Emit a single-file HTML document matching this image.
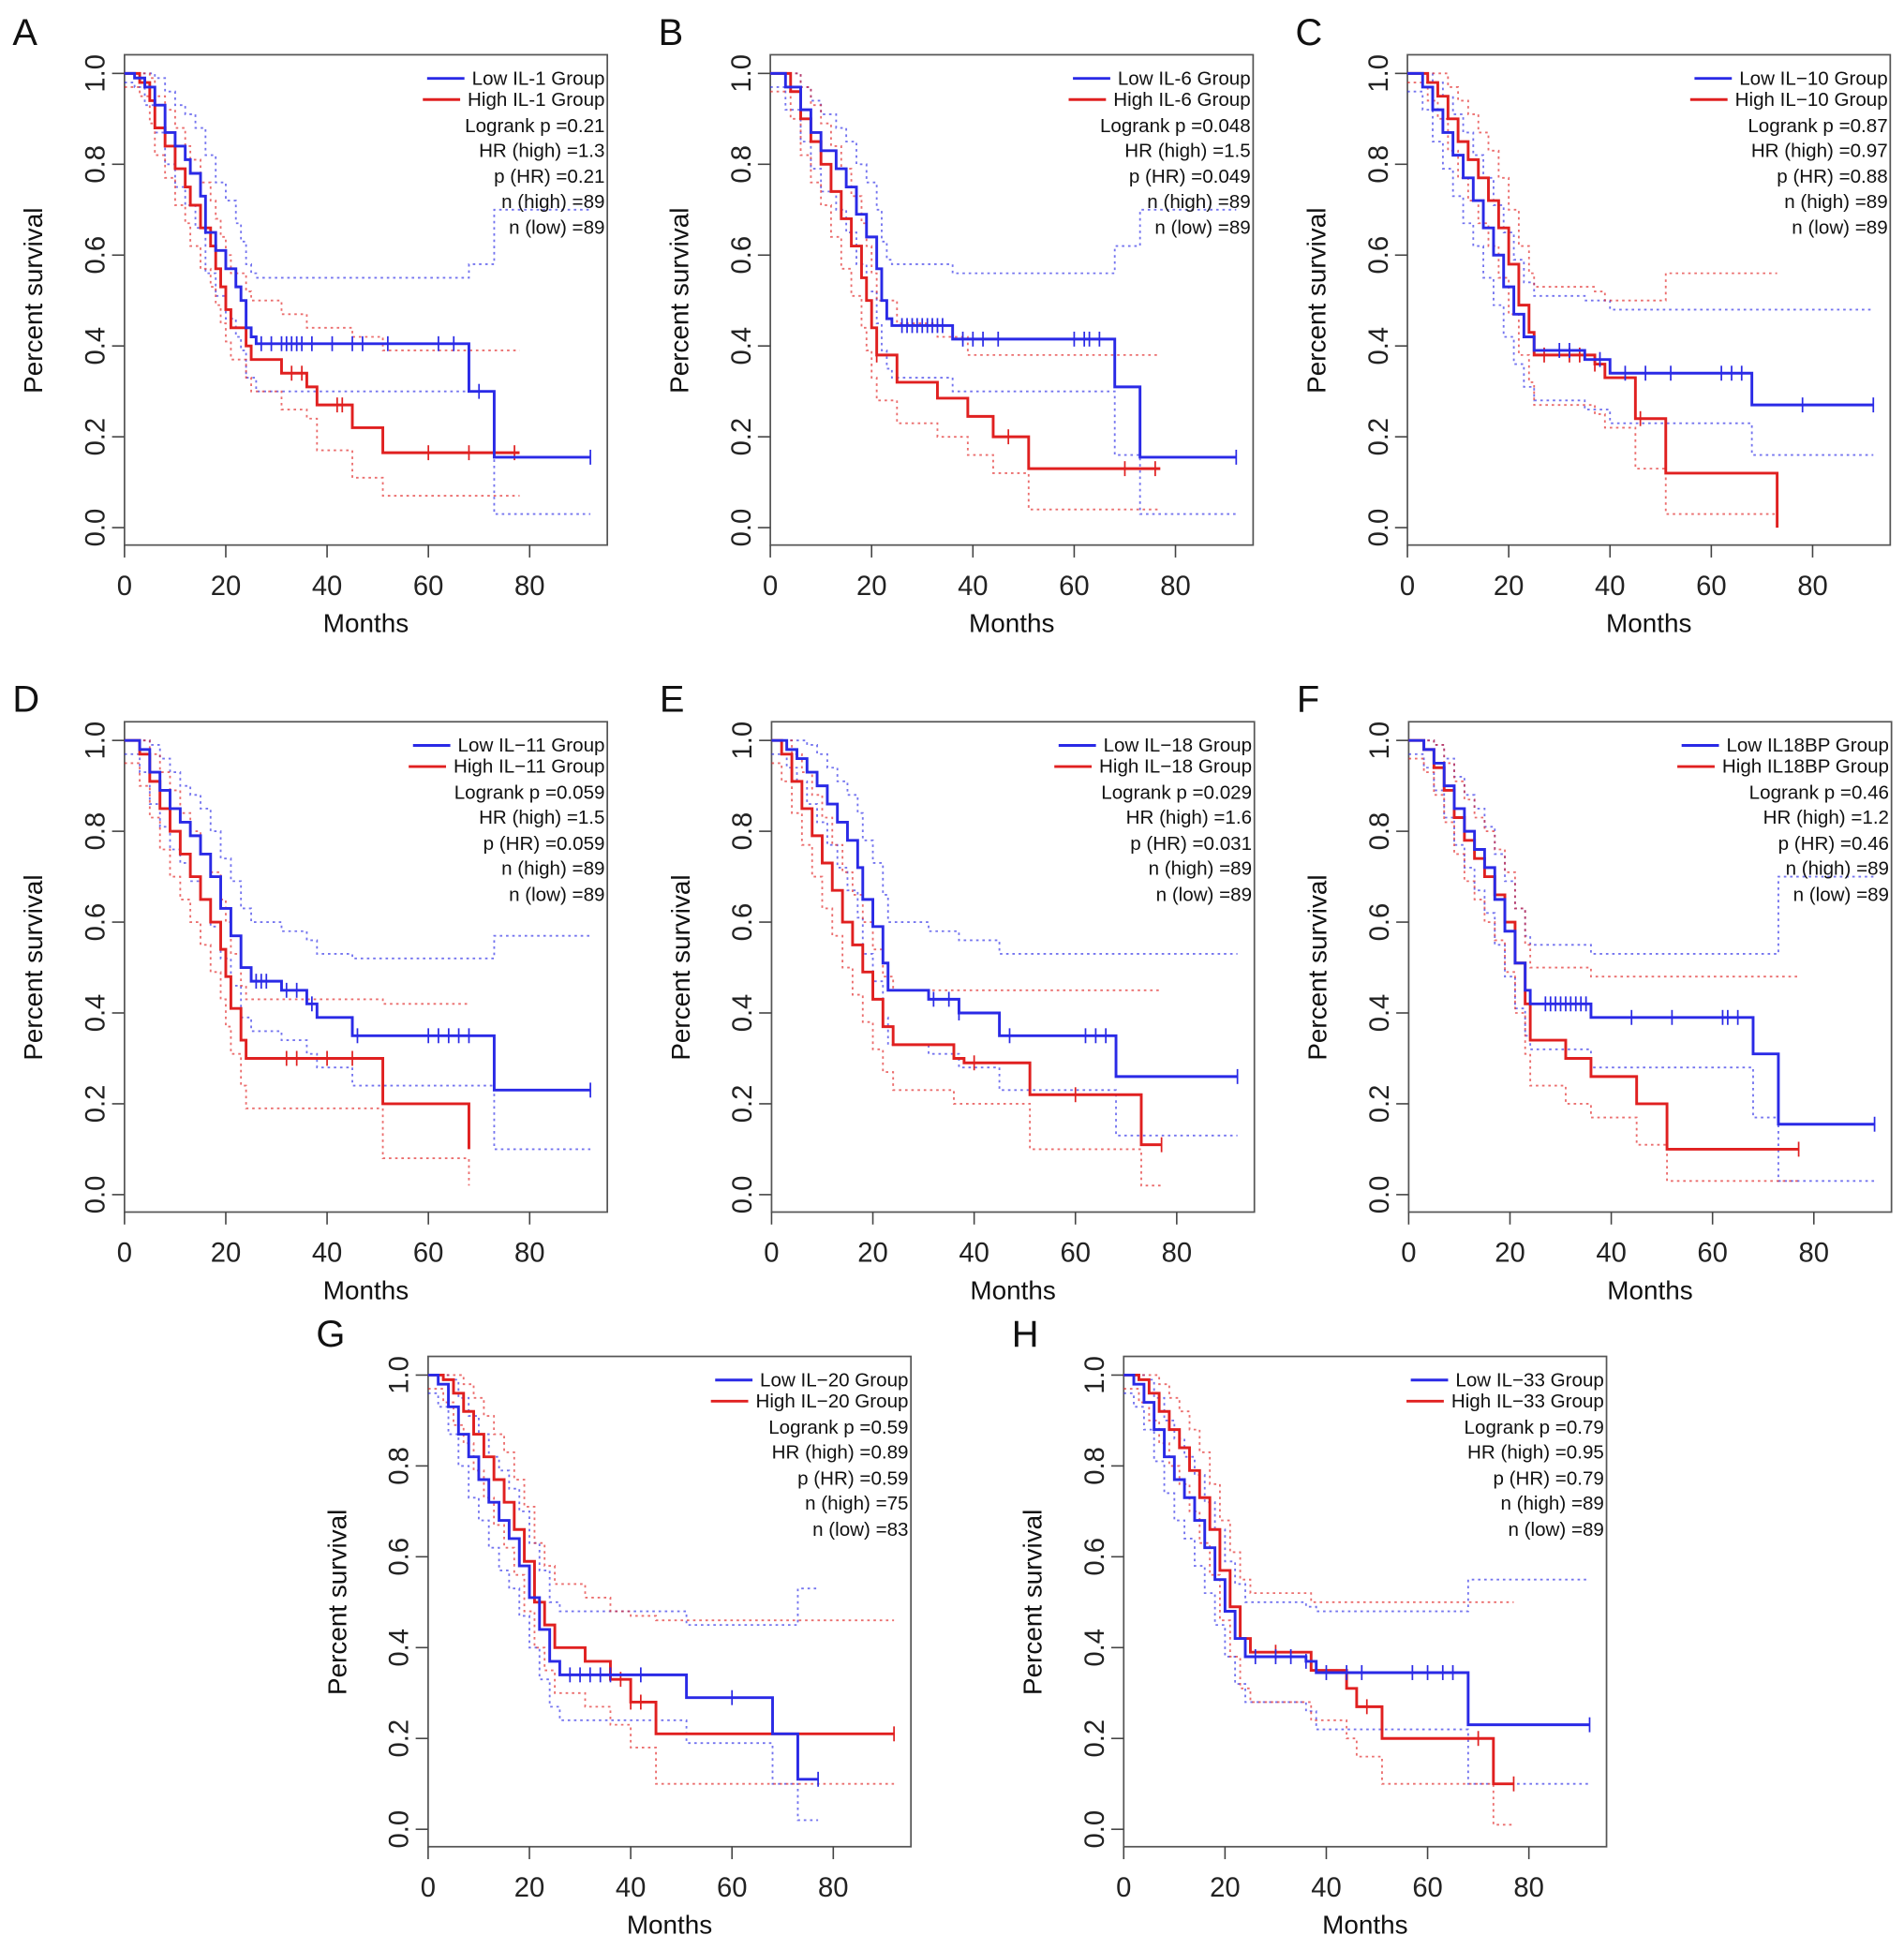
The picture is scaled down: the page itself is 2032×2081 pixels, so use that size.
<!DOCTYPE html>
<html><head><meta charset="utf-8">
<style>
html,body{margin:0;padding:0;background:#fff;}
svg{display:block;font-family:"Liberation Sans",Arial,sans-serif;}
</style></head>
<body>
<svg id="fig" width="2032" height="2081" viewBox="0 0 1530 1567" xmlns="http://www.w3.org/2000/svg"></svg>
<script>
// ---- Data (months, survival) ----
const A_low=[[0,1],[2,.99],[4,.97],[6,.93],[8,.87],[10,.84],[12,.81],[13,.78],[15,.73],[16,.65],[18,.61],[20,.57],[22,.53],[23,.5],[24,.44],[25,.42],[26,.405],[68,.30],[73,.155]];
const A_high=[[0,1],[3,.98],[5,.94],[6,.88],[8,.84],[10,.79],[12,.75],[13,.71],[15,.66],[17,.62],[18,.57],[19,.53],[20,.48],[21,.44],[24,.40],[25,.37],[31,.34],[36,.31],[38,.27],[45,.22],[51,.165]];
const A_lowCens=[27,29,31,32,33,34,35,37,41,45,47,52,62,65,70,92];
const A_highCens=[33,35,42,43,60,68,77];
const A_lowUp=[[0,1],[4,1],[6,.99],[8,.96],[10,.93],[12,.91],[14,.88],[16,.82],[18,.76],[20,.72],[22,.67],[23,.63],[24,.58],[25,.56],[26,.55],[68,.58],[73,.70]];
const A_lowLo=[[0,.98],[2,.97],[4,.93],[6,.87],[8,.80],[10,.75],[12,.71],[14,.66],[16,.56],[18,.51],[20,.46],[22,.42],[23,.39],[24,.33],[26,.30],[73,.03]];
const A_highUp=[[0,1],[3,1],[5,.99],[6,.95],[8,.92],[10,.88],[12,.84],[13,.81],[15,.76],[17,.72],[18,.68],[19,.64],[20,.60],[21,.56],[24,.52],[25,.50],[31,.47],[36,.44],[45,.42],[51,.39]];
const A_highLo=[[0,.97],[3,.95],[5,.89],[6,.82],[8,.77],[10,.71],[12,.67],[13,.62],[15,.57],[17,.53],[18,.49],[19,.45],[20,.41],[21,.37],[24,.33],[25,.30],[31,.26],[36,.24],[38,.17],[45,.11],[51,.07]];

const B_low=[[0,1],[3,.97],[6,.92],[8,.87],[10,.83],[13,.79],[15,.75],[17,.69],[19,.64],[21,.57],[22,.50],[23,.46],[24,.445],[36,.415],[68,.31],[73,.155]];
const B_high=[[0,1],[4,.96],[6,.90],[8,.85],[10,.80],[12,.74],[14,.68],[16,.62],[18,.55],[19,.50],[20,.44],[21,.38],[25,.32],[33,.285],[39,.245],[44,.20],[51,.13]];
const B_lowCens=[26,27,28,29,30,31,32,33,34,38,40,42,45,60,62,63,65,92];
const B_highCens=[21,47,70,76];
const B_lowUp=[[0,1],[4,1],[6,.97],[8,.94],[10,.91],[13,.88],[15,.85],[17,.80],[19,.76],[21,.70],[22,.63],[23,.59],[24,.58],[36,.56],[68,.62],[73,.70]];
const B_lowLo=[[0,.97],[3,.92],[6,.85],[8,.79],[10,.74],[13,.70],[15,.65],[17,.58],[19,.52],[21,.45],[22,.39],[23,.35],[24,.33],[36,.30],[68,.16],[73,.03]];
const B_highUp=[[0,1],[4,1],[6,.97],[8,.93],[10,.89],[12,.84],[14,.79],[16,.73],[18,.67],[19,.62],[20,.56],[21,.50],[25,.45],[33,.42],[39,.38]];
const B_highLo=[[0,.96],[4,.90],[6,.82],[8,.76],[10,.71],[12,.64],[14,.57],[16,.51],[18,.44],[19,.39],[20,.33],[21,.28],[25,.23],[33,.20],[39,.16],[44,.12],[51,.04]];

const C_low=[[0,1],[3,.97],[5,.92],[7,.87],[9,.82],[11,.77],[13,.72],[15,.66],[17,.60],[19,.53],[21,.47],[23,.42],[25,.39],[35,.37],[40,.34],[68,.27]];
const C_high=[[0,1],[4,.98],[6,.95],[8,.90],[10,.85],[12,.81],[14,.77],[16,.72],[18,.66],[20,.58],[22,.49],[24,.43],[25,.38],[37,.36],[39,.33],[45,.24],[51,.12],[73,0]];
const C_lowCens=[30,32,38,43,47,52,62,64,66,78,92];
const C_highCens=[27,32,34,37,46];
const C_lowUp=[[0,1],[3,1],[5,.98],[7,.95],[9,.91],[11,.87],[13,.82],[15,.77],[17,.71],[19,.65],[21,.59],[23,.54],[25,.51],[35,.50],[40,.48]];
const C_lowLo=[[0,.96],[3,.92],[5,.85],[7,.79],[9,.73],[11,.67],[13,.62],[15,.55],[17,.49],[19,.42],[21,.36],[23,.31],[25,.28],[35,.26],[40,.23],[68,.16]];
const C_highUp=[[0,1],[6,1],[8,.97],[10,.94],[12,.91],[14,.87],[16,.83],[18,.77],[20,.70],[22,.62],[24,.56],[25,.53],[37,.52],[39,.50],[45,.50],[51,.56]];
const C_highLo=[[0,.98],[4,.94],[6,.90],[8,.83],[10,.77],[12,.72],[14,.67],[16,.62],[18,.55],[20,.47],[22,.38],[24,.32],[25,.27],[37,.25],[39,.22],[45,.13],[51,.03]];

const D_low=[[0,1],[3,.98],[5,.93],[7,.89],[9,.85],[11,.82],[13,.79],[15,.75],[17,.70],[19,.63],[21,.57],[23,.50],[25,.47],[31,.45],[36,.42],[38,.39],[45,.35],[73,.23]];
const D_high=[[0,1],[3,.97],[5,.91],[7,.85],[9,.80],[11,.75],[13,.70],[15,.65],[17,.60],[19,.54],[20,.48],[21,.41],[23,.34],[24,.30],[51,.20],[68,.10]];
const D_lowCens=[26,27,28,32,34,37,46,60,62,64,66,68,92];
const D_highCens=[32,34,40,45];
const D_lowUp=[[0,1],[5,.99],[7,.96],[9,.93],[11,.90],[13,.88],[15,.85],[17,.80],[19,.74],[21,.69],[23,.63],[25,.60],[31,.58],[36,.56],[38,.53],[45,.52],[73,.57]];
const D_lowLo=[[0,.97],[3,.93],[5,.86],[7,.81],[9,.76],[11,.73],[13,.69],[15,.65],[17,.59],[19,.52],[21,.46],[23,.39],[25,.36],[31,.34],[36,.31],[38,.28],[45,.24],[73,.10]];
const D_highUp=[[0,1],[5,.97],[7,.93],[9,.89],[11,.84],[13,.80],[15,.75],[17,.71],[19,.65],[20,.60],[21,.53],[23,.46],[24,.43],[51,.42]];
const D_highLo=[[0,.95],[3,.90],[5,.83],[7,.76],[9,.70],[11,.65],[13,.60],[15,.55],[17,.49],[19,.43],[20,.37],[21,.31],[23,.24],[24,.19],[51,.08],[68,.02]];

const E_low=[[0,1],[3,.98],[5,.96],[7,.93],[9,.90],[11,.86],[13,.82],[15,.78],[17,.72],[18,.65],[20,.59],[22,.51],[23,.45],[31,.43],[37,.40],[45,.35],[68,.26]];
const E_high=[[0,1],[2,.97],[4,.91],[6,.85],[8,.79],[10,.73],[12,.67],[14,.60],[16,.55],[18,.49],[20,.43],[22,.37],[24,.33],[36,.30],[38,.29],[51,.22],[73,.11]];
const E_lowCens=[32,35,37,47,62,64,66,92];
const E_highCens=[40,60,77];
const E_lowUp=[[0,1],[7,.99],[9,.97],[11,.94],[13,.91],[15,.88],[17,.84],[18,.78],[20,.73],[22,.66],[23,.60],[31,.58],[37,.56],[45,.53]];
const E_lowLo=[[0,.97],[3,.94],[5,.91],[7,.86],[9,.82],[11,.77],[13,.72],[15,.67],[17,.61],[18,.53],[20,.47],[22,.39],[23,.33],[31,.31],[37,.28],[45,.23],[68,.13]];
const E_highUp=[[0,1],[4,.97],[6,.93],[8,.88],[10,.83],[12,.77],[14,.71],[16,.66],[18,.60],[20,.54],[22,.48],[24,.45]];
const E_highLo=[[0,.95],[2,.91],[4,.84],[6,.77],[8,.70],[10,.63],[12,.57],[14,.50],[16,.44],[18,.38],[20,.32],[22,.27],[24,.23],[36,.20],[51,.10],[73,.02]];

const F_low=[[0,1],[3,.98],[5,.95],[7,.90],[9,.85],[11,.80],[13,.76],[15,.72],[17,.65],[19,.58],[21,.51],[23,.45],[24,.42],[36,.39],[68,.31],[73,.155]];
const F_high=[[0,1],[3,.98],[5,.94],[7,.89],[9,.83],[11,.78],[13,.74],[15,.70],[17,.66],[19,.60],[21,.51],[23,.42],[24,.34],[31,.30],[36,.26],[45,.20],[51,.10]];
const F_lowCens=[27,28,29,30,31,32,33,34,35,44,52,62,63,65,92];
const F_highCens=[77];
const F_lowUp=[[0,1],[5,.99],[7,.96],[9,.92],[11,.88],[13,.85],[15,.81],[17,.75],[19,.69],[21,.63],[23,.57],[24,.55],[36,.53],[73,.70]];
const F_lowLo=[[0,.97],[3,.94],[5,.89],[7,.83],[9,.77],[11,.72],[13,.67],[15,.62],[17,.55],[19,.48],[21,.41],[23,.35],[24,.32],[36,.28],[68,.17],[73,.03]];
const F_highUp=[[0,1],[5,.99],[7,.95],[9,.91],[11,.87],[13,.83],[15,.80],[17,.76],[19,.71],[21,.63],[23,.55],[24,.50],[36,.48]];
const F_highLo=[[0,.96],[3,.93],[5,.88],[7,.82],[9,.75],[11,.69],[13,.65],[15,.60],[17,.56],[19,.49],[21,.40],[23,.31],[24,.24],[31,.20],[36,.17],[45,.11],[51,.03]];

const G_low=[[0,1],[2,.98],[4,.93],[6,.87],[8,.82],[10,.77],[12,.72],[14,.68],[16,.64],[18,.58],[20,.51],[22,.44],[24,.37],[26,.34],[51,.29],[68,.21],[73,.11]];
const G_high=[[0,1],[3,.99],[5,.96],[7,.92],[9,.87],[11,.82],[13,.77],[15,.72],[17,.66],[19,.59],[21,.50],[23,.45],[25,.40],[31,.37],[36,.33],[40,.28],[45,.21]];
const G_lowCens=[28,30,32,34,36,42,60,77];
const G_highCens=[38,40,42,92];
const G_lowUp=[[0,1],[4,.99],[6,.95],[8,.91],[10,.87],[12,.82],[14,.79],[16,.75],[18,.70],[20,.63],[22,.57],[24,.50],[26,.48],[51,.45],[73,.53]];
const G_lowLo=[[0,.96],[2,.93],[4,.87],[6,.80],[8,.73],[10,.68],[12,.62],[14,.57],[16,.53],[18,.47],[20,.40],[22,.33],[24,.27],[26,.24],[51,.19],[68,.10],[73,.02]];
const G_highUp=[[0,1],[7,.98],[9,.95],[11,.91],[13,.87],[15,.83],[17,.77],[19,.71],[21,.63],[23,.58],[25,.54],[31,.51],[36,.48],[40,.47],[45,.46]];
const G_highLo=[[0,.97],[3,.94],[5,.89],[7,.85],[9,.79],[11,.73],[13,.67],[15,.62],[17,.56],[19,.48],[21,.40],[23,.35],[25,.30],[31,.27],[36,.23],[40,.18],[45,.10]];

const H_low=[[0,1],[2,.98],[4,.94],[6,.88],[8,.82],[10,.77],[12,.73],[14,.68],[16,.62],[18,.55],[20,.48],[22,.42],[24,.38],[36,.37],[38,.345],[68,.23]];
const H_high=[[0,1],[3,.99],[5,.96],[7,.92],[9,.88],[11,.84],[13,.79],[15,.73],[17,.66],[19,.57],[21,.49],[23,.42],[25,.39],[37,.35],[44,.31],[46,.27],[51,.20],[73,.10]];
const H_lowCens=[26,30,33,36,40,44,47,57,60,63,65,92];
const H_highCens=[30,48,70,77];
const H_lowUp=[[0,1],[4,.99],[6,.95],[8,.90],[10,.86],[12,.82],[14,.78],[16,.72],[18,.66],[20,.59],[22,.54],[24,.50],[36,.49],[38,.48],[68,.55]];
const H_lowLo=[[0,.96],[2,.93],[4,.88],[6,.81],[8,.74],[10,.68],[12,.64],[14,.58],[16,.52],[18,.45],[20,.38],[22,.32],[24,.28],[36,.26],[38,.22],[68,.10]];
const H_highUp=[[0,1],[7,.98],[9,.95],[11,.92],[13,.88],[15,.83],[17,.76],[19,.68],[21,.61],[23,.55],[25,.52],[37,.50]];
const H_highLo=[[0,.97],[3,.94],[5,.90],[7,.85],[9,.80],[11,.76],[13,.70],[15,.63],[17,.56],[19,.46],[21,.38],[23,.31],[25,.28],[37,.24],[44,.20],[46,.16],[51,.10],[73,.01]];

const xTicks=[0,20,40,60,80];
const yTicks=[0,0.2,0.4,0.6,0.8,1.0];
const yTickLabels=["0.0","0.2","0.4","0.6","0.8","1.0"];

const panels=[
 {id:"A",ox:100,oy:44,gene:"IL-1",stats:["0.21","1.3","0.21","89","89"],low:A_low,high:A_high,lc:A_lowCens,hc:A_highCens,lu:A_lowUp,ll:A_lowLo,hu:A_highUp,hl:A_highLo,le:92,he:78},
 {id:"B",ox:619,oy:44,gene:"IL-6",stats:["0.048","1.5","0.049","89","89"],low:B_low,high:B_high,lc:B_lowCens,hc:B_highCens,lu:B_lowUp,ll:B_lowLo,hu:B_highUp,hl:B_highLo,le:92,he:77},
 {id:"C",ox:1131,oy:44,gene:"IL\u221210",stats:["0.87","0.97","0.88","89","89"],low:C_low,high:C_high,lc:C_lowCens,hc:C_highCens,lu:C_lowUp,ll:C_lowLo,hu:C_highUp,hl:C_highLo,le:92,he:73},
 {id:"D",ox:100,oy:580,gene:"IL\u221211",stats:["0.059","1.5","0.059","89","89"],low:D_low,high:D_high,lc:D_lowCens,hc:D_highCens,lu:D_lowUp,ll:D_lowLo,hu:D_highUp,hl:D_highLo,le:92,he:68},
 {id:"E",ox:620,oy:580,gene:"IL\u221218",stats:["0.029","1.6","0.031","89","89"],low:E_low,high:E_high,lc:E_lowCens,hc:E_highCens,lu:E_lowUp,ll:E_lowLo,hu:E_highUp,hl:E_highLo,le:92,he:77},
 {id:"F",ox:1132,oy:580,gene:"IL18BP",stats:["0.46","1.2","0.46","89","89"],low:F_low,high:F_high,lc:F_lowCens,hc:F_highCens,lu:F_lowUp,ll:F_lowLo,hu:F_highUp,hl:F_highLo,le:92,he:77},
 {id:"G",ox:344,oy:1090,gene:"IL\u221220",stats:["0.59","0.89","0.59","75","83"],low:G_low,high:G_high,lc:G_lowCens,hc:G_highCens,lu:G_lowUp,ll:G_lowLo,hu:G_highUp,hl:G_highLo,le:77,he:92},
 {id:"H",ox:903,oy:1090,gene:"IL\u221233",stats:["0.79","0.95","0.79","89","89"],low:H_low,high:H_high,lc:H_lowCens,hc:H_highCens,lu:H_lowUp,ll:H_lowLo,hu:H_highUp,hl:H_highLo,le:92,he:77}
];

const NS="http://www.w3.org/2000/svg";
const svg=document.getElementById("fig");
const BW=388,BH=394,PXM=4.07,PXY=365,Y1=15;
const BLUE="#2a2ae6",RED="#e02020";
function mk(tag,attrs,parent){const e=document.createElementNS(NS,tag);for(const k in attrs)e.setAttribute(k,attrs[k]);parent.appendChild(e);return e;}
function stepPath(pts,end,xs,ys){let d="M"+xs(pts[0][0])+","+ys(pts[0][1]);for(let i=1;i<pts.length;i++){d+=" H"+xs(pts[i][0])+" V"+ys(pts[i][1]);}d+=" H"+xs(end);return d;}
function survAt(pts,t){let s=pts[0][1];for(const p of pts){if(p[0]<=t)s=p[1];}return s;}

panels.forEach(p=>{
 const g=mk("g",{},svg);
 
 
 const xs=t=>(p.ox+t*PXM).toFixed(1);
 const ys=s=>(p.oy+Y1+(1-s)*PXY).toFixed(1);
 const lbl=mk("text",{x:p.ox-90,y:p.oy-8,"font-size":30,fill:"#111"},g);lbl.textContent=p.id;
 
 
 const box=mk("rect",{x:p.ox,y:p.oy,width:BW,height:BH,fill:"none",stroke:"#555","stroke-width":1.3},g);
 
 
 // y axis (ticks from frame edge)
 const ax=p.ox;
 const ya=mk("g",{},g);
 
 
 yTicks.forEach((v,i)=>{mk("line",{x1:ax-10,x2:ax,y1:ys(v),y2:ys(v),stroke:"#444","stroke-width":1.2},ya);
  const t=mk("text",{x:0,y:0,"font-size":22,fill:"#222","text-anchor":"middle",transform:"translate("+(ax-16)+","+ys(v)+") rotate(-90)"},ya);t.textContent=yTickLabels[i];});
 const yt=mk("text",{"font-size":21,fill:"#111","text-anchor":"middle",transform:"translate("+(p.ox-66)+","+(p.oy+Y1+PXY/2)+") rotate(-90)"},g);yt.textContent="Percent survival";
 
 
 // x axis (ticks from frame edge)
 const by=p.oy+BH;
 const xa=mk("g",{},g);
 
 
 xTicks.forEach(v=>{mk("line",{x1:xs(v),x2:xs(v),y1:by,y2:by+10,stroke:"#444","stroke-width":1.2},xa);
  const t=mk("text",{x:xs(v),y:by+40,"font-size":22,fill:"#222","text-anchor":"middle"},xa);t.textContent=v;});
 const xt=mk("text",{x:p.ox+194,y:by+70,"font-size":21,fill:"#111","text-anchor":"middle"},g);xt.textContent="Months";
 
 
 // CI
 [[p.lu,p.le,BLUE,"ci-low-upper"],[p.ll,p.le,BLUE,"ci-low-lower"],[p.hu,p.he,RED,"ci-high-upper"],[p.hl,p.he,RED,"ci-high-lower"]].forEach(c=>{
  const e=mk("path",{d:stepPath(c[0],c[1],xs,ys),fill:"none",stroke:c[2],"stroke-width":1.4,"stroke-dasharray":"2,3",opacity:0.65},g);
  
  
 });
 // curves
 [[p.high,p.he,RED,p.hc,"high-group-curve"],[p.low,p.le,BLUE,p.lc,"low-group-curve"]].forEach(c=>{
  const e=mk("path",{d:stepPath(c[0],c[1],xs,ys),fill:"none",stroke:c[2],"stroke-width":2.2},g);
  
  
  c[3].forEach(t=>{const s=survAt(c[0],t);const m=mk("line",{x1:xs(t),x2:xs(t),y1:+ys(s)-6,y2:+ys(s)+6,stroke:c[2],"stroke-width":1.3},g);
   
   });
 });
 // legend
 const lg=mk("g",{},g);
 
 
 const rx=p.ox+BW-2;
 const lines=["Low "+p.gene+" Group","High "+p.gene+" Group","Logrank p ="+p.stats[0],"HR (high) ="+p.stats[1],"p (HR) ="+p.stats[2],"n (high) ="+p.stats[3],"n (low) ="+p.stats[4]];
 const ry=[19,36,57,77,98,118,139];
 lines.forEach((s,i)=>{const t=mk("text",{x:rx,y:p.oy+ry[i]+5,"font-size":15.5,fill:"#111","text-anchor":"end"},lg);t.textContent=s;
  if(i<2){const w=t.getComputedTextLength();const x2=rx-w-6;const l=mk("line",{x1:x2-30,x2:x2,y1:p.oy+ry[i],y2:p.oy+ry[i],stroke:i==0?BLUE:RED,"stroke-width":2.2},lg);
   
   }
 });
});
</script>
</body></html>
